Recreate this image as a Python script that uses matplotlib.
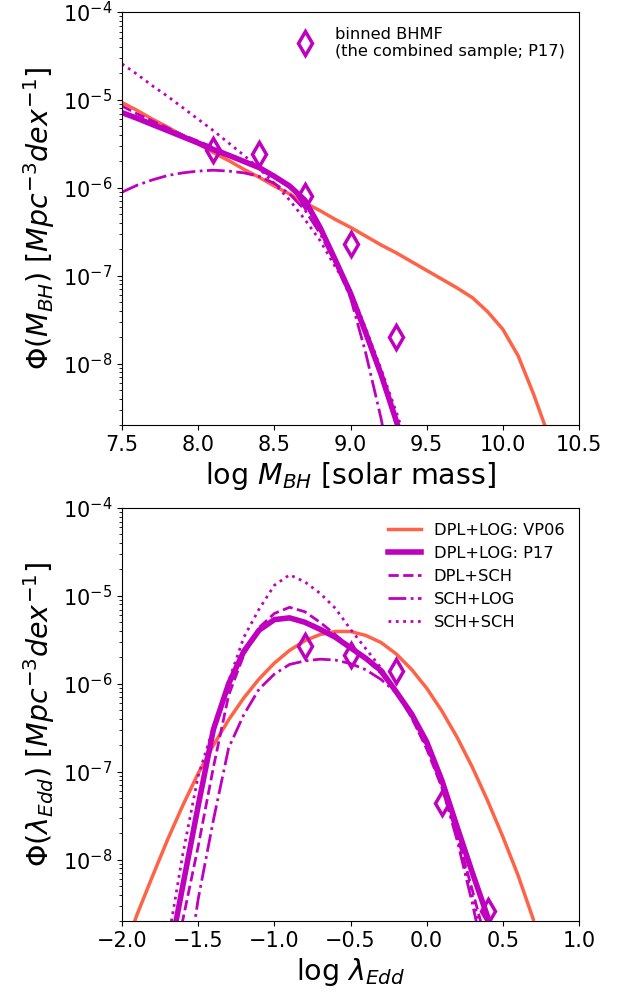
import numpy as np
import matplotlib
matplotlib.use("Agg")
import matplotlib.pyplot as plt

# ---------------- black hole mass function (log10 Phi) ----------------
logm = [7.5, 7.6, 7.7, 7.8, 7.9, 8.0, 8.1, 8.2, 8.3, 8.4, 8.5, 8.6, 8.7,
        8.8, 8.9, 9.0, 9.1, 9.2, 9.3, 9.4, 9.5, 9.6, 9.7, 9.8, 9.9, 10.0,
        10.1, 10.2, 10.3]
bhmf_vp06 = [-5.03, -5.12, -5.22, -5.31, -5.41, -5.50, -5.60, -5.69, -5.79,
             -5.88, -5.98, -6.07, -6.17, -6.26, -6.36, -6.45, -6.55, -6.65,
             -6.74, -6.84, -6.94, -7.04, -7.14, -7.25, -7.41, -7.61, -7.91,
             -8.34, -8.82]
logm_fit = logm[:20]
bhmf_p17 = [-5.145, -5.21, -5.28, -5.35, -5.42, -5.49, -5.565, -5.63, -5.70,
            -5.77, -5.87, -5.98, -6.14, -6.45, -6.82, -7.20, -7.65, -8.12,
            -8.65, -9.20]
bhmf_dpl_sch = [-5.07, -5.16, -5.24, -5.32, -5.40, -5.47, -5.54, -5.62, -5.69,
                -5.77, -5.87, -5.99, -6.15, -6.45, -6.82, -7.22, -7.67, -8.15,
                -8.68, -9.25]
bhmf_sch_log = [-6.05, -5.97, -5.91, -5.86, -5.83, -5.81, -5.80, -5.81, -5.83,
                -5.87, -5.95, -6.07, -6.25, -6.52, -6.85, -7.25, -7.88, -8.62,
                -9.50, -10.4]
bhmf_sch_sch = [-4.59, -4.71, -4.84, -4.96, -5.09, -5.22, -5.35, -5.49, -5.63,
                -5.78, -5.95, -6.14, -6.36, -6.60, -6.90, -7.17, -7.60, -8.06,
                -8.55, -9.07]
bin_m = [8.1, 8.4, 8.7, 9.0, 9.3]
bin_bhmf = [2.7e-6, 2.43e-6, 8.1e-7, 2.31e-7, 2.03e-8]

# ---------------- Eddington ratio distribution (log10 Phi) ----------------
logl = [-2.0, -1.9, -1.8, -1.7, -1.6, -1.5, -1.4, -1.3, -1.2, -1.1, -1.0,
        -0.9, -0.8, -0.7, -0.6, -0.5, -0.4, -0.3, -0.2, -0.1, 0.0, 0.1, 0.2,
        0.3, 0.4, 0.5, 0.6, 0.7]
erdf_vp06 = [-9.10, -8.62, -8.19, -7.77, -7.38, -7.02, -6.70, -6.41, -6.16,
             -5.945, -5.765, -5.62, -5.51, -5.44, -5.405, -5.405, -5.45,
             -5.53, -5.66, -5.835, -6.05, -6.31, -6.61, -6.95, -7.33, -7.74,
             -8.18, -8.68]
logl_fit = logl[3:26]
erdf_p17 = [-9.2, -8.29, -7.39, -6.52, -6.00, -5.63, -5.39, -5.27, -5.25,
            -5.30, -5.38, -5.47, -5.59, -5.71, -5.85, -6.09, -6.34, -6.66,
            -7.10, -7.63, -8.15, -8.65, -9.20]
erdf_dpl_sch = [-9.6, -8.68, -7.85, -6.95, -6.13, -5.67, -5.36, -5.20, -5.13,
                -5.18, -5.30, -5.44, -5.59, -5.72, -5.88, -6.10, -6.38, -6.74,
                -7.18, -7.72, -8.35, -9.00, -9.7]
erdf_sch_log = [-10.8, -9.6, -8.45, -7.55, -6.73, -6.35, -6.06, -5.89, -5.78,
                -5.74, -5.72, -5.73, -5.77, -5.84, -5.95, -6.10, -6.35, -6.70,
                -7.17, -7.78, -8.50, -9.30, -10.1]
erdf_sch_sch = [-8.95, -7.93, -7.05, -6.50, -5.97, -5.47, -5.15, -4.88, -4.76,
                -4.84, -4.97, -5.14, -5.38, -5.60, -5.82, -6.08, -6.38, -6.72,
                -7.17, -7.72, -8.42, -9.10, -9.8]
bin_l = [-0.8, -0.5, -0.2, 0.1, 0.4]
bin_erdf = [2.7e-6, 2.14e-6, 1.41e-6, 4.45e-8, 2.57e-9]

ORANGE = 'tomato'
PURPLE = 'm'


def pw(vals):
    return 10.0 ** np.asarray(vals)


fig = plt.figure(figsize=(6.27, 9.96), dpi=100)
ax1 = fig.add_axes([0.19458, 0.57329, 0.72887, 0.41466])
ax2 = fig.add_axes([0.19458, 0.07530, 0.72887, 0.41466])

# top: mass function
ax1.plot(logm, pw(bhmf_vp06), color=ORANGE, lw=2.5)
ax1.plot(logm_fit, pw(bhmf_p17), color=PURPLE, lw=4)
ax1.plot(logm_fit, pw(bhmf_dpl_sch), color=PURPLE, lw=2, ls='--')
ax1.plot(logm_fit, pw(bhmf_sch_log), color=PURPLE, lw=2, ls='-.')
ax1.plot(logm_fit, pw(bhmf_sch_sch), color=PURPLE, lw=2, ls=':')
ax1.plot(bin_m, bin_bhmf, ls='none', marker='d', ms=12, mew=2.5,
         mfc='none', mec=PURPLE,
         label='binned BHMF\n(the combined sample; P17)')
ax1.set_yscale('log')
ax1.set_xlim(7.5, 10.5)
ax1.set_ylim(2e-9, 1e-4)
ax1.set_xticks([7.5, 8.0, 8.5, 9.0, 9.5, 10.0, 10.5])
ax1.set_xlabel(r'log $M_{BH}$ [solar mass]', fontsize=20.5)
ax1.set_ylabel(r'$\Phi(M_{BH})$ $[Mpc^{-3}dex^{-1}]$', fontsize=20.5)
ax1.legend(loc='upper right', frameon=False, fontsize=11.7, numpoints=1)

# bottom: Eddington ratio distribution
ax2.plot(logl, pw(erdf_vp06), color=ORANGE, lw=2.5, label='DPL+LOG: VP06')
ax2.plot(logl_fit, pw(erdf_p17), color=PURPLE, lw=4, label='DPL+LOG: P17')
ax2.plot(logl_fit, pw(erdf_dpl_sch), color=PURPLE, lw=2, ls='--',
         label='DPL+SCH')
ax2.plot(logl_fit, pw(erdf_sch_log), color=PURPLE, lw=2, ls='-.',
         label='SCH+LOG')
ax2.plot(logl_fit, pw(erdf_sch_sch), color=PURPLE, lw=2, ls=':',
         label='SCH+SCH')
ax2.plot(bin_l, bin_erdf, ls='none', marker='d', ms=12, mew=2.5,
         mfc='none', mec=PURPLE)
ax2.set_yscale('log')
ax2.set_xlim(-2.0, 1.0)
ax2.set_ylim(2e-9, 1e-4)
ax2.set_xticks([-2.0, -1.5, -1.0, -0.5, 0.0, 0.5, 1.0])
ax2.set_xlabel(r'log $\lambda_{Edd}$', fontsize=20.5)
ax2.set_ylabel(r'$\Phi(\lambda_{Edd})$ $[Mpc^{-3}dex^{-1}]$', fontsize=20.5)
ax2.legend(loc='upper right', frameon=False, fontsize=11.7)

for ax in (ax1, ax2):
    ax.tick_params(labelsize=15)

fig.savefig('out.png', dpi=100)
